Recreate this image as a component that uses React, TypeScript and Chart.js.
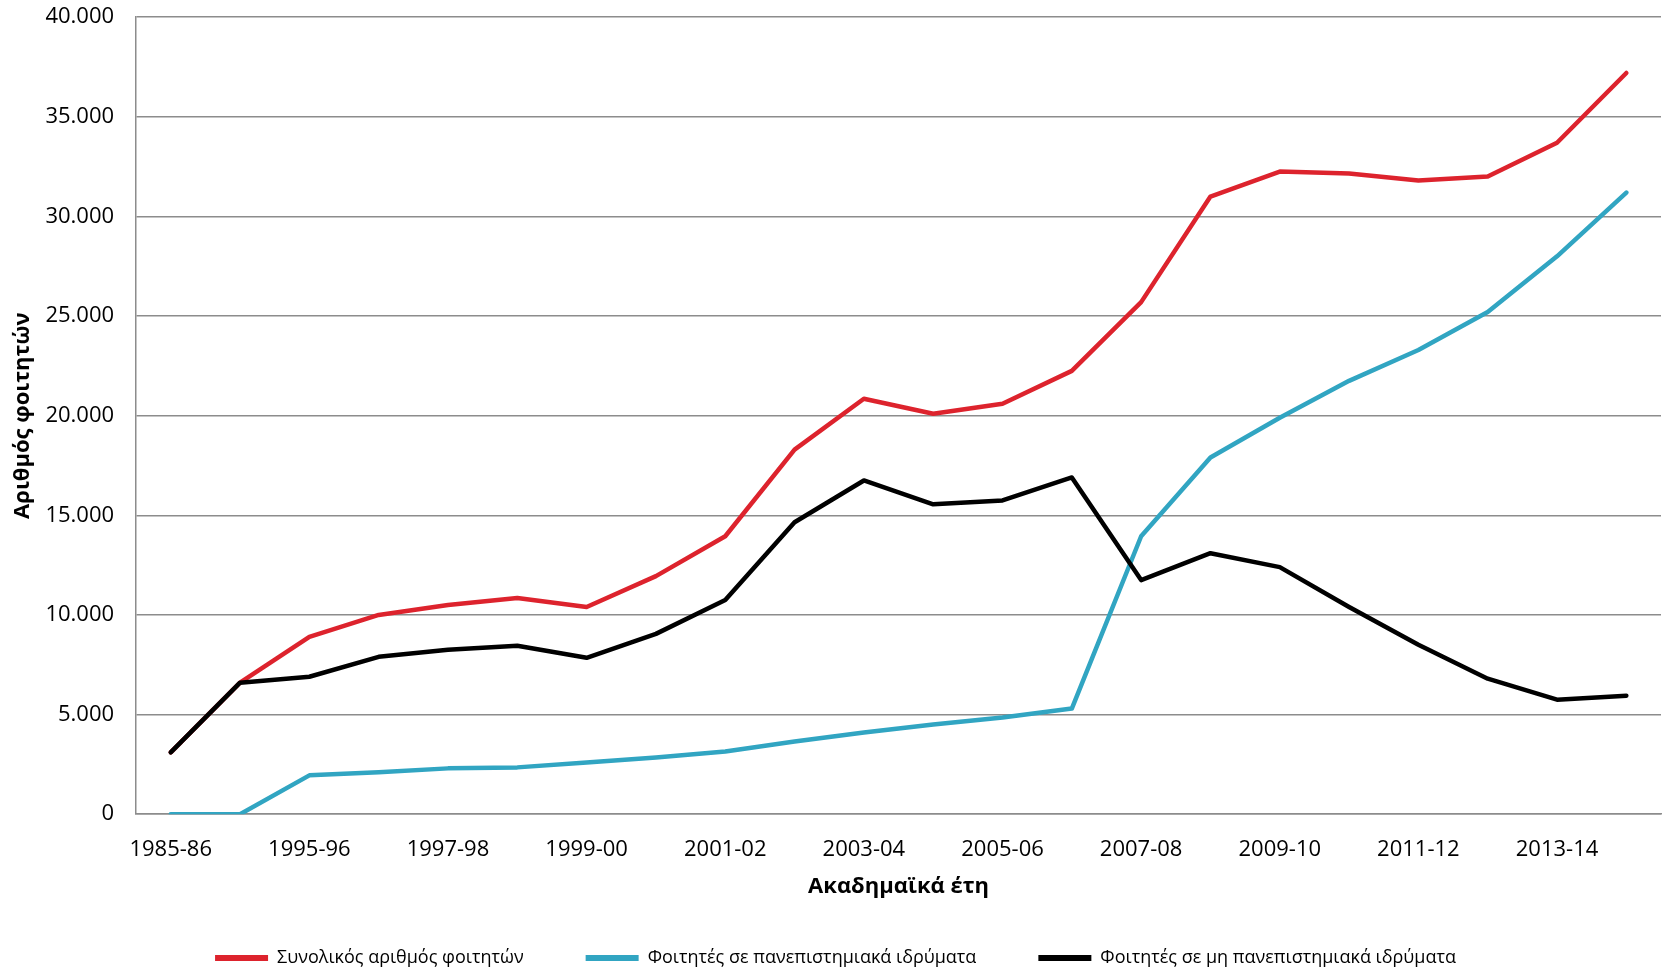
import React, { useEffect, useRef } from 'react';
import { Chart, registerables } from 'chart.js';

Chart.register(...registerables);

const categories = [
  '1985-86', '1994-95', '1995-96', '1996-97', '1997-98', '1998-99', '1999-00',
  '2000-01', '2001-02', '2002-03', '2003-04', '2004-05', '2005-06', '2006-07',
  '2007-08', '2008-09', '2009-10', '2010-11', '2011-12', '2012-13', '2013-14', '2014-15',
];

const totalStudents = [
  3100, 6600, 8900, 10000, 10500, 10850, 10400, 11950, 13950, 18300, 20850,
  20100, 20600, 22250, 25700, 31000, 32250, 32150, 31800, 32000, 33700, 37200,
];

const universityStudents = [
  0, 0, 1950, 2100, 2300, 2350, 2600, 2850, 3150, 3650, 4100,
  4500, 4850, 5300, 13950, 17900, 19900, 21750, 23300, 25200, 28000, 31200,
];

const nonUniversityStudents = [
  3100, 6600, 6900, 7900, 8250, 8450, 7850, 9050, 10750, 14650, 16750,
  15550, 15750, 16900, 11750, 13100, 12400, 10400, 8500, 6800, 5750, 5950,
];

const seriesNames = [
  'Συνολικός αριθμός φοιτητών',
  'Φοιτητές σε πανεπιστημιακά ιδρύματα',
  'Φοιτητές σε μη πανεπιστημιακά ιδρύματα',
];

const yAxisTitle = 'Αριθμός φοιτητών';
const xAxisTitle = 'Ακαδημαϊκά έτη';

const FONT = "'Open Sans', 'Noto Sans', sans-serif";

function formatThousands(v: number): string {
  return String(Math.round(v)).replace(/\B(?=(\d{3})+(?!\d))/g, '.');
}

export default function App() {
  const canvasRef = useRef<HTMLCanvasElement | null>(null);

  useEffect(() => {
    if (!canvasRef.current) return;
    const lineCommon = {
      borderWidth: 4.5,
      pointRadius: 0,
      pointHoverRadius: 0,
      tension: 0,
      fill: false,
      borderCapStyle: 'round' as const,
      borderJoinStyle: 'round' as const,
      pointStyle: 'line' as const,
    };
    const chart = new Chart(canvasRef.current, {
      type: 'line',
      data: {
        labels: categories,
        datasets: [
          {
            ...lineCommon,
            label: seriesNames[0],
            data: totalStudents,
            borderColor: '#DD232D',
            backgroundColor: '#DD232D',
            order: 2,
          },
          {
            ...lineCommon,
            label: seriesNames[1],
            data: universityStudents,
            borderColor: '#31A5C2',
            backgroundColor: '#31A5C2',
            order: 1,
          },
          {
            ...lineCommon,
            label: seriesNames[2],
            data: nonUniversityStudents,
            borderColor: '#000000',
            backgroundColor: '#000000',
            order: 0,
          },
        ],
      },
      options: {
        animation: false,
        responsive: false,
        maintainAspectRatio: false,
        layout: { padding: { left: 10, right: 6, top: 0, bottom: -9 } },
        plugins: {
          tooltip: { enabled: false },
          legend: {
            display: true,
            position: 'bottom',
            labels: {
              usePointStyle: true,
              pointStyleWidth: 53,
              padding: 62,
              color: '#000',
              font: { family: FONT, size: 18 },
              sort: (a: any, b: any) => a.datasetIndex - b.datasetIndex,
              generateLabels: (c: any) =>
                Chart.defaults.plugins.legend.labels
                  .generateLabels(c)
                  .map((it: any) => ({ ...it, lineWidth: 6 })),
            },
          },
        },
        scales: {
          x: {
            type: 'category',
            offset: true,
            grid: { display: false, drawTicks: false },
            border: { display: true, color: '#8c8c8c', width: 1.5 },
            ticks: {
              autoSkip: false,
              maxRotation: 0,
              minRotation: 0,
              padding: 22,
              color: '#000',
              font: { family: FONT, size: 22 },
              callback: (_v: any, i: number) => (i % 2 === 0 ? categories[i] : ''),
            },
            title: {
              display: true,
              text: xAxisTitle,
              color: '#000',
              font: { family: FONT, size: 22, weight: 'bold' },
              padding: { top: -11, bottom: -13 },
            },
          },
          y: {
            min: 0,
            max: 40000,
            grid: {
              color: '#8c8c8c',
              lineWidth: 1.5,
              drawTicks: true,
              tickLength: 18,
              tickColor: 'rgba(0,0,0,0)',
            },
            border: { display: true, color: '#8c8c8c', width: 1.5 },
            ticks: {
              stepSize: 5000,
              padding: 4,
              color: '#000',
              font: { family: FONT, size: 22 },
              callback: (v: any) => formatThousands(Number(v)),
            },
            title: {
              display: true,
              text: yAxisTitle,
              color: '#000',
              font: { family: FONT, size: 22, weight: 'bold' },
              padding: { top: 0, bottom: 5 },
            },
          },
        },
      },
    });
    return () => chart.destroy();
  }, []);

  return (
    <div style={{ position: 'absolute', left: 0, top: 0, width: 1667, height: 968, background: '#fff' }}>
      <canvas ref={canvasRef} width={1667} height={968} />
    </div>
  );
}
